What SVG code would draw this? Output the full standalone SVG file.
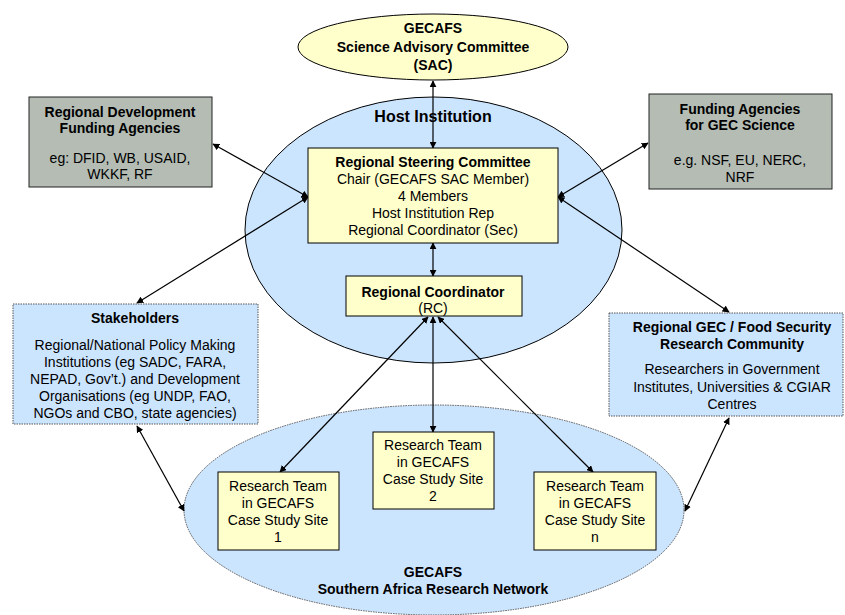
<svg xmlns="http://www.w3.org/2000/svg" width="845" height="615" viewBox="0 0 845 615">
<style>
text{font-family:"Liberation Sans",Arial,sans-serif;font-size:14px;fill:#000;text-anchor:middle}
.b{font-weight:bold}
.yel{fill:#FFFFCC;stroke:#000;stroke-width:1}
.gray{fill:#B4BCB4;stroke:#222;stroke-width:1}
.dot{fill:#CCE5FF;stroke:#555;stroke-width:1;stroke-dasharray:1.5 1}
.con{stroke:#000;stroke-width:1.2;fill:none;marker-start:url(#ah);marker-end:url(#ah)}
</style>
<defs>
<marker id="ah" viewBox="0 0 10 10" refX="9" refY="5" markerWidth="7" markerHeight="7" markerUnits="userSpaceOnUse" orient="auto-start-reverse">
<path d="M0,0 L10,5 L0,10 z" fill="#000"/>
</marker>
</defs>
<rect width="845" height="615" fill="#fff"/>
<g id="network">
<ellipse cx="434" cy="510" rx="250" ry="105" class="dot"/>
<text class="b" x="433" y="577">GECAFS</text>
<text class="b" x="433" y="594">Southern Africa Research Network</text>
</g>
<g id="host">
<ellipse cx="433.5" cy="230" rx="188.5" ry="133" fill="#CCE5FF" stroke="#000" stroke-width="1"/>
<text class="b" x="433" y="122" style="font-size:16px">Host Institution</text>
</g>
<g id="sac">
<ellipse cx="433" cy="47" rx="135" ry="33" class="yel"/>
<text class="b" x="433" y="33">GECAFS</text>
<text class="b" x="433" y="52">Science Advisory Committee</text>
<text class="b" x="433" y="70">(SAC)</text>
</g>
<g id="connectors">
<line class="con" x1="433" y1="81" x2="433" y2="148"/>
<line class="con" x1="433" y1="243" x2="433" y2="276"/>
<line class="con" x1="213" y1="144" x2="308" y2="197"/>
<line class="con" x1="308" y1="197" x2="137" y2="303"/>
<line class="con" x1="648" y1="143" x2="558" y2="197"/>
<line class="con" x1="558" y1="197" x2="729" y2="312"/>
<line class="con" x1="137" y1="426" x2="184" y2="511"/>
<line class="con" x1="729" y1="418" x2="685" y2="511"/>
<line class="con" x1="428" y1="317" x2="280" y2="472"/>
<line class="con" x1="433" y1="317" x2="433" y2="432"/>
<line class="con" x1="438" y1="317" x2="593" y2="472"/>
</g>
<g id="rsc">
<rect x="308" y="148" width="250" height="95" class="yel"/>
<text class="b" x="433" y="167">Regional Steering Committee</text>
<text x="433" y="184">Chair (GECAFS SAC Member)</text>
<text x="433" y="201">4 Members</text>
<text x="433" y="218">Host Institution Rep</text>
<text x="433" y="235">Regional Coordinator (Sec)</text>
</g>
<g id="rc">
<rect x="346" y="276" width="176" height="40" class="yel"/>
<text class="b" x="433" y="297">Regional Coordinator</text>
<text x="433" y="313">(RC)</text>
</g>
<g id="rdfa">
<rect x="29" y="97" width="183" height="90" class="gray"/>
<text class="b" x="120" y="117">Regional Development</text>
<text class="b" x="120" y="133">Funding Agencies</text>
<text x="120" y="163">eg: DFID, WB, USAID,</text>
<text x="120" y="179">WKKF, RF</text>
</g>
<g id="fags">
<rect x="649" y="94" width="183" height="95" class="gray"/>
<text class="b" x="740" y="114">Funding Agencies</text>
<text class="b" x="740" y="130">for GEC Science</text>
<text x="740" y="165">e.g. NSF, EU, NERC,</text>
<text x="740" y="182">NRF</text>
</g>
<g id="stakeholders">
<rect x="13" y="304" width="245" height="120" class="dot"/>
<text class="b" x="135" y="323">Stakeholders</text>
<text x="135" y="350">Regional/National Policy Making</text>
<text x="135" y="367">Institutions (eg SADC, FARA,</text>
<text x="135" y="384">NEPAD, Gov’t.) and Development</text>
<text x="135" y="401">Organisations (eg UNDP, FAO,</text>
<text x="135" y="418">NGOs and CBO, state agencies)</text>
</g>
<g id="gec">
<rect x="609" y="313" width="234" height="103" class="dot"/>
<text class="b" x="732" y="332">Regional GEC / Food Security</text>
<text class="b" x="732" y="349">Research Community</text>
<text x="732" y="374">Researchers in Government</text>
<text x="732" y="392">Institutes, Universities &amp; CGIAR</text>
<text x="732" y="409">Centres</text>
</g>
<g id="site1">
<rect x="218" y="472" width="121" height="78" class="yel"/>
<text x="278" y="491">Research Team</text>
<text x="278" y="508">in GECAFS</text>
<text x="278" y="525">Case Study Site</text>
<text x="278" y="542">1</text>
</g>
<g id="site2">
<rect x="373" y="432" width="121" height="77" class="yel"/>
<text x="433" y="450">Research Team</text>
<text x="433" y="467">in GECAFS</text>
<text x="433" y="484">Case Study Site</text>
<text x="433" y="501">2</text>
</g>
<g id="siten">
<rect x="534" y="472" width="122" height="78" class="yel"/>
<text x="595" y="491">Research Team</text>
<text x="595" y="508">in GECAFS</text>
<text x="595" y="525">Case Study Site</text>
<text x="595" y="542">n</text>
</g>
</svg>
